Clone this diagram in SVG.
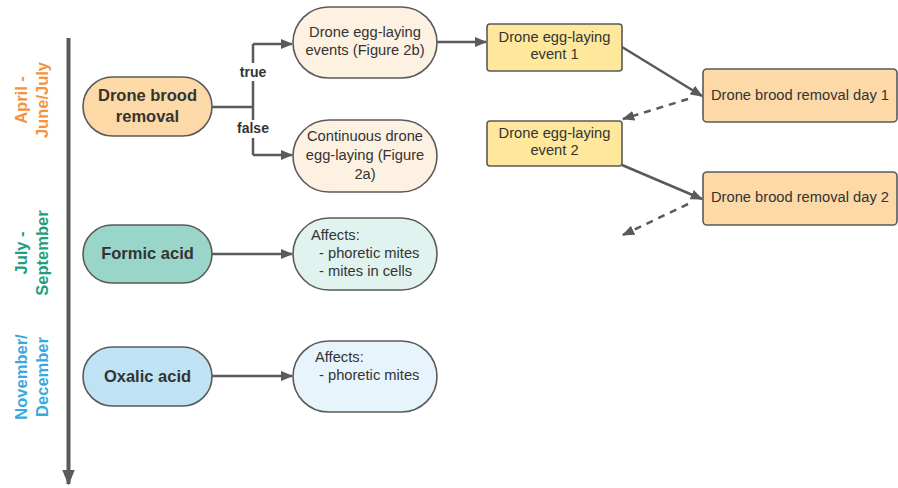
<svg xmlns="http://www.w3.org/2000/svg" width="898" height="488" viewBox="0 0 898 488">
<style>
text{font-family:"Liberation Sans",Arial,sans-serif;fill:#333;}
.t{font-size:14.7px;text-anchor:middle;}
.tl{font-size:14.7px;}
.b{font-size:16.5px;font-weight:bold;text-anchor:middle;}
.side{font-size:16.5px;font-weight:bold;text-anchor:middle;}
.node{stroke:#5a5a5a;stroke-width:1.6;}
.c{stroke:#5a5a5a;stroke-width:2.5;fill:none;}
.lab{font-size:14px;font-weight:bold;text-anchor:middle;}
</style>
<defs>
<marker id="a" viewBox="0 0 10 10" refX="9" refY="5" markerWidth="5" markerHeight="5" orient="auto" markerUnits="strokeWidth">
<path d="M0,1 L10,5 L0,9 z" fill="#5a5a5a"/>
</marker>
<marker id="big" viewBox="0 0 10 10" refX="9" refY="5" markerWidth="4" markerHeight="4" orient="auto" markerUnits="strokeWidth">
<path d="M0,1 L10,5 L0,9 z" fill="#5a5a5a"/>
</marker>
</defs>
<rect width="898" height="488" fill="#fff"/>

<g id="timeline">
<line x1="68.5" y1="38" x2="68.5" y2="484" stroke="#5a5a5a" stroke-width="4" marker-end="url(#big)"/>
<text class="side" style="fill:#F5923E" transform="translate(27,100) rotate(-90)">April -</text>
<text class="side" style="fill:#F5923E" transform="translate(48,100) rotate(-90)">June/July</text>
<text class="side" style="fill:#1E9E7C" transform="translate(27,253) rotate(-90)">July -</text>
<text class="side" style="fill:#1E9E7C" transform="translate(48,253) rotate(-90)">September</text>
<text class="side" style="fill:#3AA8E0" transform="translate(27,377) rotate(-90)">November/</text>
<text class="side" style="fill:#3AA8E0" transform="translate(48,377) rotate(-90)">December</text>
</g>

<g id="connectors">
<path class="c" d="M212,107 H253 M253,44 V155"/>
<path class="c" d="M253,44 H292" marker-end="url(#a)"/>
<path class="c" d="M253,155 H292" marker-end="url(#a)"/>
<rect x="238" y="63" width="30" height="18" fill="#fff"/>
<text class="lab" x="253" y="77">true</text>
<rect x="235" y="120" width="36" height="18" fill="#fff"/>
<text class="lab" x="253" y="133">false</text>
<path class="c" d="M437,42 H486" marker-end="url(#a)"/>
<path class="c" d="M622,47 L702,96" marker-end="url(#a)"/>
<path class="c" d="M622,165 L702,199" marker-end="url(#a)"/>
<path class="c" d="M688,99 L623,119" stroke-dasharray="7,6" marker-end="url(#a)"/>
<path class="c" d="M688,204 L623,235" stroke-dasharray="7,6" marker-end="url(#a)"/>
<path class="c" d="M212,254 H292" marker-end="url(#a)"/>
<path class="c" d="M212,376 H292" marker-end="url(#a)"/>
</g>

<g id="drone-brood-removal">
<rect class="node" x="83" y="77" width="129" height="59" rx="29.5" fill="#FCD9A6"/>
<text class="b" x="147.5" y="101">Drone brood</text>
<text class="b" x="147.5" y="122">removal</text>
</g>

<g id="events-2b">
<rect class="node" x="293" y="7" width="144" height="71" rx="35.5" fill="#FDF1E2"/>
<text class="t" x="365" y="37">Drone egg-laying</text>
<text class="t" x="365" y="55">events (Figure 2b)</text>
</g>

<g id="continuous-2a">
<rect class="node" x="293" y="120" width="144" height="72" rx="36" fill="#FDF1E2"/>
<text class="t" x="365" y="141">Continuous drone</text>
<text class="t" x="365" y="160">egg-laying (Figure</text>
<text class="t" x="365" y="179">2a)</text>
</g>

<g id="event1">
<rect class="node" x="487" y="24" width="135" height="47" rx="3" fill="#FFE89C"/>
<text class="t" x="554.5" y="42">Drone egg-laying</text>
<text class="t" x="554.5" y="59">event 1</text>
</g>

<g id="event2">
<rect class="node" x="487" y="121" width="135" height="45" rx="3" fill="#FFE89C"/>
<text class="t" x="554.5" y="138">Drone egg-laying</text>
<text class="t" x="554.5" y="155">event 2</text>
</g>

<g id="removal-day1">
<rect class="node" x="703" y="69" width="194" height="53" rx="4" fill="#FCD9A6"/>
<text class="t" x="800" y="100">Drone brood removal day 1</text>
</g>

<g id="removal-day2">
<rect class="node" x="703" y="172" width="194" height="53" rx="4" fill="#FCD9A6"/>
<text class="t" x="800" y="202">Drone brood removal day 2</text>
</g>

<g id="formic-acid">
<rect class="node" x="83" y="225" width="129" height="58" rx="29" fill="#9AD5C9"/>
<text class="b" x="147.5" y="259">Formic acid</text>
</g>

<g id="formic-affects">
<rect class="node" x="293" y="218" width="144" height="72" rx="36" fill="#E1F3EF"/>
<text class="tl" x="311" y="240">Affects:</text>
<text class="tl" x="319" y="258">- phoretic mites</text>
<text class="tl" x="319" y="276">- mites in cells</text>
</g>

<g id="oxalic-acid">
<rect class="node" x="83" y="347" width="129" height="59" rx="29.5" fill="#BFE3F5"/>
<text class="b" x="147.5" y="382">Oxalic acid</text>
</g>

<g id="oxalic-affects">
<rect class="node" x="293" y="341" width="144" height="71" rx="35.5" fill="#E7F4FB"/>
<text class="tl" x="315" y="362">Affects:</text>
<text class="tl" x="319" y="380">- phoretic mites</text>
</g>
</svg>
